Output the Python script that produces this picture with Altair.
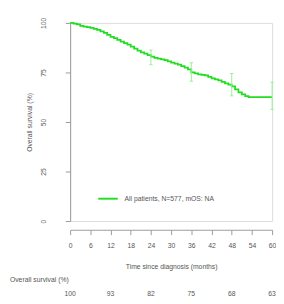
import altair as alt
import pandas as pd

months = [0, 1, 2, 3, 4, 5, 6, 7, 8, 9, 10, 11, 12, 13, 14, 15, 16, 17, 18, 19, 20, 21, 22, 23, 24, 25, 26, 27, 28, 29, 30, 31, 32, 33, 34, 35, 36, 37, 38, 39, 40, 41, 42, 43, 44, 45, 46, 47, 48, 49, 50, 51, 52, 53, 60]
surv = [100, 99.7, 99.3, 98.5, 98.2, 97.9, 97.5, 97.0, 96.5, 95.8, 95.0, 94.0, 93.0, 92.3, 91.5, 90.6, 89.8, 89.0, 88.0, 87.0, 86.0, 85.2, 84.5, 83.8, 83.0, 82.4, 82.0, 81.6, 81.2, 80.6, 80.0, 79.5, 79.0, 78.2, 77.5, 76.5, 75.0, 74.5, 74.0, 73.8, 73.5, 72.8, 72.0, 71.5, 71.0, 70.3, 69.5, 68.8, 68.0, 66.5, 65.0, 64.0, 63.0, 62.5, 62.5]

ci_months = [24, 36, 48, 60]
ci_low = [78.9, 70.6, 63.2, 56.4]
ci_high = [86.3, 79.9, 74.5, 70.1]

table_months = [0, 12, 24, 36, 48, 60]
table_values = ["100", "93", "82", "75", "68", "63"]

x_ticks = [0, 6, 12, 18, 24, 30, 36, 42, 48, 54, 60]
y_ticks = [0, 25, 50, 75, 100]

series_name = "All patients, N=577, mOS: NA"

curve = pd.DataFrame({"month": months, "surv": surv, "group": series_name})
ci = pd.DataFrame({"month": ci_months, "low": ci_low, "high": ci_high})
ci["left"] = ci["month"] - 0.5
ci["right"] = ci["month"] + 0.5
tab = pd.DataFrame({"month": table_months, "val": table_values})

GREEN = "#22dd22"
LIGHT = "#99ee99"
AX = "#9a9a9a"
TXT = "#555555"
FONT = "Liberation Sans"

xscale = alt.Scale(domain=[0, 60], nice=False, zero=False)
yscale = alt.Scale(domain=[0, 100], nice=False)

xaxis = alt.Axis(values=x_ticks, title="Time since diagnosis (months)",
                 offset=9, grid=False, domainColor=AX, tickColor=AX, tickSize=5,
                 labelColor=TXT, labelFontSize=7, labelFont=FONT, labelPadding=7,
                 labelOverlap=False,
                 titleColor=TXT, titleFontSize=7, titleFont=FONT, titleFontWeight="normal",
                 titlePadding=15, labelFlush=False)
yaxis = alt.Axis(values=y_ticks, title="Overall survival (%)",
                 grid=False, domainColor=AX, tickColor=AX, tickSize=5,
                 labelColor=TXT, labelFontSize=7, labelFont=FONT, labelAngle=270,
                 labelAlign="center", labelBaseline="bottom", labelPadding=19,
                 labelOverlap=False,
                 titleColor=TXT, titleFontSize=7, titleFont=FONT, titleFontWeight="normal",
                 titlePadding=8)


def X(field):
    return alt.X(field, scale=xscale, axis=xaxis, title="Time since diagnosis (months)")


def Y(field):
    return alt.Y(field, scale=yscale, axis=yaxis, title="Overall survival (%)")


line = alt.Chart(curve).mark_line(interpolate="step-after", strokeWidth=1.8).encode(
    x=X("month:Q"),
    y=Y("surv:Q"),
    color=alt.Color("group:N", scale=alt.Scale(range=[GREEN]),
                    legend=alt.Legend(title=None, orient="none", legendX=28, legendY=170,
                                      symbolType="stroke", symbolSize=400, symbolStrokeWidth=2,
                                      labelFontSize=7, labelColor=TXT, labelFont=FONT,
                                      labelOffset=6)),
)

vbar = alt.Chart(ci).mark_rule(color=LIGHT, strokeWidth=1).encode(
    x=X("month:Q"), y=Y("low:Q"), y2="high:Q")
cap_lo = alt.Chart(ci).mark_rule(color=LIGHT, strokeWidth=1).encode(
    x=X("left:Q"), x2="right:Q", y=Y("low:Q"))
cap_hi = alt.Chart(ci).mark_rule(color=LIGHT, strokeWidth=1).encode(
    x=X("left:Q"), x2="right:Q", y=Y("high:Q"))

tab_title = alt.Chart(pd.DataFrame({"t": ["Overall survival (%)"]})).mark_text(
    align="left", baseline="middle", fontSize=7, font=FONT).encode(
    x=alt.value(-62), y=alt.value(265), text="t:N", color=alt.value(TXT))
tab_vals = alt.Chart(tab).mark_text(
    align="center", baseline="middle", fontSize=7, font=FONT).encode(
    x=X("month:Q"), y=alt.value(279), text="val:N", color=alt.value(TXT))

chart = alt.layer(line, vbar, cap_lo, cap_hi, tab_title, tab_vals).properties(
    width=208, height=204,
    autosize=alt.AutoSizeParams(type="none"),
    padding={"left": 64, "top": 11, "right": 4, "bottom": 79},
).configure_view(stroke=None).configure(background="white")

chart.save("out.html", embed_options={"renderer": "svg", "actions": False})
